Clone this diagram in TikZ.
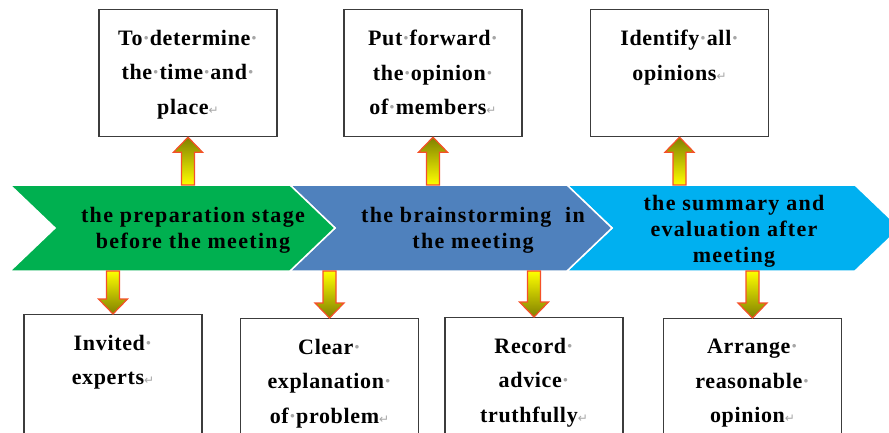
\documentclass[tikz,border=0pt]{standalone}
\usepackage{fontspec}
\setmainfont{Liberation Serif}
\newfontfamily\boxfont[LetterSpace=3]{Liberation Serif}
\newfontfamily\stagefont[LetterSpace=6]{Liberation Serif}
\newfontfamily\markfont{DejaVu Sans}
\usetikzlibrary{calc}
\definecolor{StageA}{RGB}{0,176,80}
\definecolor{StageB}{RGB}{79,129,189}
\definecolor{StageC}{RGB}{0,176,240}
\definecolor{ArrowEdge}{RGB}{245,80,40}
\definecolor{ArrowDark}{RGB}{128,128,0}
\definecolor{BoxEdge}{RGB}{60,60,60}

% formatting marks inside the boxes
\newcommand{\dotm}{\textcolor{gray!70}{·}}
\newcommand{\retm}{\textcolor{gray!70}{\markfont\mdseries\fontsize{12}{12}\selectfont ↵}}

% chevron: left x, flat length, colour
\newcommand{\chevron}[3]{%
  \filldraw[#3, draw=white, line width=1.5pt]
    (#1,185) -- (#1+#2,185) -- (#1+#2+45,228) -- (#1+#2,271)
    -- (#1,271) -- (#1+45,228) -- cycle;
}

% block arrow: shading style, tail, head
\newcommand{\blockarrow}[3]{%
  \coordinate (bt) at (#2);
  \coordinate (bh) at (#3);
  \coordinate (bn) at ($(bh)!15pt!(bt)$);
  \draw[arrowbody, #1]
    ($(bt)!6.5pt!90:(bh)$) -- ($(bn)!6.5pt!90:(bh)$) -- ($(bn)!14.5pt!90:(bh)$)
    -- (bh) -- ($(bn)!14.5pt!-90:(bh)$) -- ($(bn)!6.5pt!-90:(bh)$)
    -- ($(bt)!6.5pt!-90:(bh)$) -- cycle;
}

\tikzset{
  arrowbody/.style={draw=ArrowEdge, line width=1.2pt, line join=miter},
  uparrow/.style={top color=ArrowDark, bottom color=yellow},
  downarrow/.style={top color=yellow, bottom color=ArrowDark},
  infobox/.style={draw=BoxEdge, line width=1.2pt, fill=white, anchor=north,
    minimum width=178pt, inner sep=0pt},
  boxtext/.style={anchor=north, align=center, inner sep=0pt,
    font=\boxfont\bfseries\fontsize{22}{34.5}\selectfont},
  stagetext/.style={align=center, inner sep=0pt,
    font=\stagefont\bfseries\fontsize{22}{26}\selectfont}
}

\begin{document}
\begin{tikzpicture}[x=1pt, y=-1pt]

    \clip (0,0) rectangle (889,433);
    \fill[white] (0,0) rectangle (889,433);

    %% --- Stages ---
    \chevron{567}{288}{StageC}
    \chevron{290}{277}{StageB}
    \chevron{10}{280}{StageA}
    \coordinate (stagetop) at (0,185);
    \coordinate (stagebot) at (0,271);

    \node[stagetext] (s1) at (193,230.5) {the preparation stage\\before the meeting};
    \node[stagetext] (s2) at (473,230.5) {the brainstorming~ in\\the meeting};
    \node[stagetext] (s3) at (734,231) {the summary and\\evaluation after\\meeting};

    %% --- Upper boxes ---
    \node[infobox, minimum height=127pt] (b1) at (188,9) {};
    \node[infobox, minimum height=127pt] (b2) at (433,9) {};
    \node[infobox, minimum height=127pt] (b3) at (679.5,9) {};

    \node[boxtext] (t1) at ([yshift=-21pt]b1.north) {To\dotm determine\dotm\\the\dotm time\dotm and\dotm\\place\retm};
    \node[boxtext] (t2) at ([yshift=-21pt]b2.north) {Put\dotm forward\dotm\\the\dotm opinion\dotm\\of\dotm members\retm};
    \node[boxtext] (t3) at ([yshift=-21pt]b3.north) {Identify\dotm all\dotm\\opinions\retm};

    %% --- Lower boxes ---
    \node[infobox, minimum height=150pt] (b4) at (113,314) {};
    \node[infobox, minimum height=150pt] (b5) at (329.5,318) {};
    \node[infobox, minimum height=150pt] (b6) at (534,317) {};
    \node[infobox, minimum height=150pt] (b7) at (752.5,318) {};

    \node[boxtext] (t4) at ([yshift=-21pt]b4.north) {Invited\dotm\\experts\retm};
    \node[boxtext] (t5) at ([yshift=-21pt]b5.north) {Clear\dotm\\explanation\dotm\\of\dotm problem\retm};
    \node[boxtext] (t6) at ([yshift=-21pt]b6.north) {Record\dotm\\advice\dotm\\truthfully\retm};
    \node[boxtext] (t7) at ([yshift=-21pt]b7.north) {Arrange\dotm\\reasonable\dotm\\opinion\retm};

    %% --- Arrows ---
    \blockarrow{uparrow}{b1.south |- stagetop}{b1.south}
    \blockarrow{uparrow}{b2.south |- stagetop}{b2.south}
    \blockarrow{uparrow}{b3.south |- stagetop}{b3.south}

    \blockarrow{downarrow}{b4.north |- stagebot}{b4.north}
    \blockarrow{downarrow}{b5.north |- stagebot}{b5.north}
    \blockarrow{downarrow}{b6.north |- stagebot}{b6.north}
    \blockarrow{downarrow}{b7.north |- stagebot}{b7.north}

\end{tikzpicture}
\end{document}
